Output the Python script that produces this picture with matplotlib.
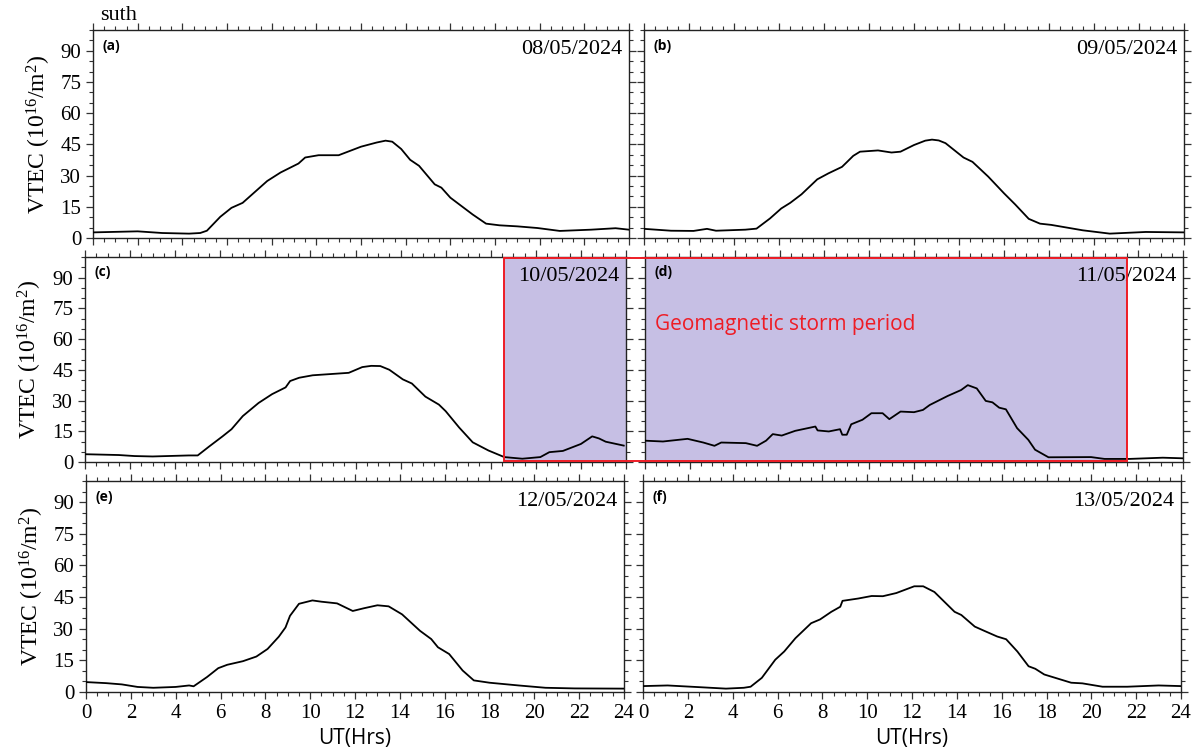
import matplotlib
matplotlib.use("Agg")
import matplotlib.pyplot as plt
from matplotlib.patches import Rectangle
from matplotlib.ticker import MultipleLocator

# VTEC at station "suth", 8-13 May 2024 (hours UT, TECU)
hrs_a = [0, 2.0, 3.1, 4.3, 4.8, 5.1, 5.7, 6.2, 6.7, 7.8, 8.4, 9.2, 9.5, 10.1, 11.0, 12.0,
         12.7, 13.1, 13.4, 13.8, 14.2, 14.6, 15.3, 15.6, 16.0, 17.0, 17.6, 18.2, 19.0,
         19.9, 20.9, 22.3, 23.4, 24]
tec_a = [2.7, 3.2, 2.4, 2.1, 2.4, 3.5, 10.2, 14.5, 16.9, 27.4, 31.5, 35.8, 38.7, 39.8,
         39.8, 43.9, 45.9, 46.8, 46.3, 42.8, 37.6, 34.7, 25.8, 24.2, 19.4, 11.3, 6.9,
         6.1, 5.6, 4.8, 3.4, 4.0, 4.7, 4.0]

hrs_b = [0, 1.2, 2.2, 2.8, 3.2, 4.5, 5.0, 5.6, 6.1, 6.5, 7.0, 7.7, 8.2, 8.8, 9.0, 9.3,
         9.6, 10.4, 11.0, 11.4, 12.0, 12.5, 12.8, 13.1, 13.4, 14.2, 14.6, 15.3, 16.0,
         16.5, 17.1, 17.6, 18.1, 19.5, 20.7, 22.3, 24]
tec_b = [4.4, 3.5, 3.4, 4.4, 3.5, 4.0, 4.5, 9.4, 14.2, 16.9, 21.0, 28.2, 31.1, 34.2,
         36.3, 39.5, 41.5, 42.1, 41.1, 41.5, 44.7, 46.8, 47.3, 46.9, 45.6, 38.7, 36.6,
         29.5, 21.5, 16.1, 9.2, 6.9, 6.3, 3.7, 2.1, 2.9, 2.7]

hrs_c = [0, 1.5, 2.2, 3.0, 4.6, 5.0, 5.5, 6.1, 6.5, 7.0, 7.7, 8.3, 8.9, 9.1, 9.5, 10.1,
         11.7, 12.3, 12.7, 13.1, 13.5, 14.1, 14.5, 15.1, 15.7, 16.0, 16.6, 17.2, 17.9,
         18.6, 19.4, 20.2, 20.6, 21.2, 22.0, 22.5, 22.8, 23.1, 23.9]
tec_c = [3.8, 3.4, 2.9, 2.7, 3.2, 3.2, 7.5, 12.5, 16.0, 22.4, 28.8, 33.1, 36.4, 39.5,
         41.1, 42.3, 43.5, 46.3, 46.9, 46.8, 45.0, 40.3, 38.3, 31.9, 28.0, 24.8, 16.8,
         9.6, 5.6, 2.4, 1.6, 2.4, 4.8, 5.4, 8.8, 12.5, 11.5, 9.9, 8.0]

hrs_d = [0, 0.8, 1.9, 2.6, 3.1, 3.4, 4.5, 5.0, 5.4, 5.7, 6.1, 6.7, 7.6, 7.7, 8.2, 8.7,
         8.8, 9.0, 9.2, 9.7, 10.1, 10.6, 10.9, 11.4, 12.0, 12.4, 12.7, 13.5, 14.1, 14.4,
         14.8, 15.2, 15.5, 15.8, 16.1, 16.6, 17.1, 17.4, 18.0, 19.9, 20.5, 21.6, 23.1, 24]
tec_d = [10.4, 10.0, 11.3, 9.5, 7.9, 9.5, 9.2, 7.9, 10.4, 13.6, 12.9, 15.2, 17.3, 15.4,
         14.9, 16.0, 13.3, 13.3, 18.4, 20.6, 23.8, 23.8, 20.9, 24.6, 24.3, 25.4, 27.8,
         32.2, 35.1, 37.5, 35.9, 29.8, 29.1, 26.5, 25.7, 16.5, 10.8, 6.0, 2.3, 2.4, 1.5,
         1.5, 2.1, 1.8]

hrs_e = [0, 0.9, 1.6, 2.3, 3.0, 4.0, 4.6, 4.8, 5.4, 5.9, 6.3, 7.0, 7.6, 8.1, 8.6, 8.9,
         9.1, 9.5, 10.1, 10.5, 11.2, 11.9, 12.4, 13.0, 13.5, 14.1, 14.9, 15.4, 15.7,
         16.2, 16.8, 17.3, 18.0, 19.3, 20.5, 21.8, 24]
tec_e = [4.7, 4.2, 3.6, 2.4, 2.0, 2.4, 3.1, 2.7, 7.1, 11.3, 12.9, 14.6, 16.8, 20.4, 26.2,
         30.6, 36.1, 41.8, 43.4, 42.8, 42.0, 38.4, 39.7, 41.1, 40.6, 36.8, 29.0, 25.1,
         21.2, 18.0, 10.2, 5.5, 4.4, 3.1, 2.0, 1.7, 1.6]

hrs_f = [0, 1.1, 2.5, 3.7, 4.5, 4.8, 5.3, 5.9, 6.3, 6.8, 7.5, 7.9, 8.4, 8.8, 8.9, 9.6,
         10.2, 10.7, 11.3, 12.1, 12.5, 13.0, 13.9, 14.2, 14.8, 15.2, 15.8, 16.2, 16.7,
         17.2, 17.5, 17.9, 19.1, 19.6, 20.5, 21.6, 23.0, 24]
tec_f = [2.8, 3.1, 2.3, 1.6, 2.0, 2.5, 6.7, 15.3, 19.2, 25.5, 32.6, 34.4, 38.0, 40.4,
         43.2, 44.3, 45.5, 45.4, 46.9, 50.1, 50.1, 47.4, 38.0, 36.5, 31.0, 29.1, 26.3,
         25.0, 19.2, 12.2, 11.0, 8.3, 4.4, 4.1, 2.5, 2.5, 3.1, 2.8]

dates = ["08/05/2024", "09/05/2024", "10/05/2024", "11/05/2024", "12/05/2024", "13/05/2024"]
letters = ["(a)", "(b)", "(c)", "(d)", "(e)", "(f)"]
hours = [hrs_a, hrs_b, hrs_c, hrs_d, hrs_e, hrs_f]
vtec = [tec_a, tec_b, tec_c, tec_d, tec_e, tec_f]

# storm window: 10/05 from 18.6 UT to 11/05 21.5 UT
storm_start = 18.6
storm_end = 21.5

SERIF = "Liberation Serif"
SANS = "Open Sans"
SHADE = "#c6bfe4"
RED = "#ee1c25"

plt.rcParams.update({
    "font.family": SERIF,
    "mathtext.fontset": "custom",
    "mathtext.rm": SERIF,
    "mathtext.it": SERIF + ":italic",
    "axes.linewidth": 1.0,
    "axes.edgecolor": "#222222",
})

W, H = 1198, 755
fig = plt.figure(figsize=(W / 100, H / 100), dpi=100)

# pixel boxes (left, top, right, bottom) for the six panels
boxes = [(93, 30, 629, 238), (644, 30, 1184, 238),
         (85, 257, 626, 462), (645, 257, 1183, 462),
         (86, 481, 624, 692), (643, 481, 1181, 692)]

axes = []
for i, (l, t, r, b) in enumerate(boxes):
    ax = fig.add_axes([l / W, 1 - b / H, (r - l) / W, (b - t) / H])
    ax.plot(hours[i], vtec[i], color="black", lw=1.3, zorder=3)
    ax.set_xlim(0, 24)
    ax.set_ylim(0, 100)
    ax.xaxis.set_major_locator(MultipleLocator(2))
    ax.xaxis.set_minor_locator(MultipleLocator(0.5))
    ax.yaxis.set_minor_locator(MultipleLocator(5))
    ax.set_yticks([0, 15, 30, 45, 60, 75, 90])
    ax.tick_params(which="both", direction="out", top=True, right=True,
                   color="#333333", labelsize=15)
    ax.tick_params(which="major", length=5, width=0.9)
    ax.tick_params(which="minor", length=3, width=0.8)
    col = i % 2
    row = i // 2
    if col == 1:
        ax.tick_params(labelleft=False)
    else:
        ax.set_ylabel(r"VTEC (10$^{16}$/m$^{2}$)", fontsize=17)
        ax.yaxis.set_label_coords(-0.075, 0.5)
    if row < 2:
        ax.tick_params(labelbottom=False)
    else:
        ax.set_xlabel("UT(Hrs)", fontsize=15, family=SANS, labelpad=4)
    ax.text(0.987, 0.905, dates[i], transform=ax.transAxes, ha="right", va="center",
            fontsize=16, zorder=4)
    ax.text(0.018, 0.925, letters[i], transform=ax.transAxes, ha="left", va="center",
            fontsize=10, family=SANS, fontweight="bold", zorder=4)
    axes.append(ax)

ax_c, ax_d = axes[2], axes[3]
ax_c.axvspan(storm_start, 24, ymin=0.005, ymax=0.995, color=SHADE, lw=0, zorder=1)
ax_d.axvspan(0, storm_end, ymin=0.005, ymax=0.995, color=SHADE, lw=0, zorder=1)
ax_d.text(0.018, 0.67, "Geomagnetic storm period", transform=ax_d.transAxes,
          ha="left", va="center", color=RED, fontsize=15, family=SANS)

# one red outline spanning both storm panels
inv = fig.transFigure.inverted()
x0, y0 = inv.transform(ax_c.transData.transform((storm_start, 0.6)))
x1, y1 = inv.transform(ax_d.transData.transform((storm_end, 99.6)))
fig.patches.append(Rectangle((x0, y0), x1 - x0, y1 - y0, transform=fig.transFigure,
                             fill=False, edgecolor=RED, lw=1.4, zorder=5))

fig.text(100 / W, 1 - 15 / H, "suth", ha="left", va="center", fontsize=16)

fig.savefig("out.png", dpi=100)
